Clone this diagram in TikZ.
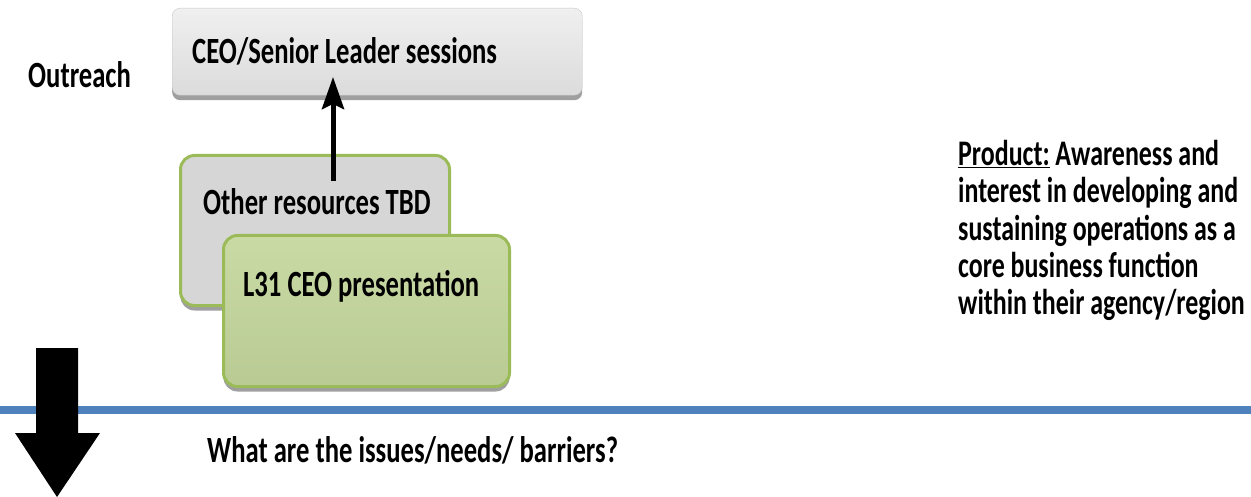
\documentclass[tikz,border=0pt]{standalone}
\usepackage{fontspec}
\setmainfont{Carlito}[FakeStretch=0.72]
\usetikzlibrary{shadows,arrows.meta}
\definecolor{boxgray}{HTML}{D6D6D6}
\definecolor{boxgreen}{HTML}{C3D69B}
\definecolor{edgegreen}{HTML}{9BBB59}
\definecolor{ruleblue}{HTML}{4F81BD}
\tikzset{
  lbl/.style={font=\bfseries\fontsize{37pt}{37.4pt}\selectfont, inner sep=0pt, anchor=base west},
  graybox/.style={rounded corners=8pt, draw=gray!45, top color=gray!12, bottom color=gray!28,
    drop shadow={shadow xshift=0pt, shadow yshift=-5pt, fill=gray!75, opacity=1},
    anchor=north west, inner sep=0pt},
  greenedge/.style={rounded corners=14pt, draw=edgegreen, line width=3pt,
    drop shadow={shadow xshift=0pt, shadow yshift=-5pt, fill=gray!75, opacity=1},
    anchor=north west, inner sep=0pt},
}
\begin{document}
\begin{tikzpicture}[x=1pt,y=-1pt]
\useasboundingbox (0,0) rectangle (1251,497);
\node[graybox, minimum width=410pt, minimum height=87pt] (ceo) at (172,8) {};
\node[lbl] (ceotxt) at (192,64) {CEO/Senior Leader sessions};
\node[lbl] (outreach) at (28,88) {Outreach};
\node[greenedge, fill=boxgray, minimum width=269pt, minimum height=150pt] (other) at (179,154) {};
\node[lbl] (othertxt) at (203,215) {Other resources TBD};
\node[greenedge, top color=boxgreen!90!white, bottom color=boxgreen!95!black, minimum width=286pt, minimum height=151pt] (ltone) at (222,234) {};
\node[lbl] (ltonetxt) at (243,297) {L31 CEO presentation};
\coordinate (upfoot) at (333,181);
\coordinate (uptip) at (333,77);
\draw[line width=5pt, -{Stealth[length=32pt,width=22pt,inset=5pt]}] (upfoot) -- (uptip);
\node[lbl, font=\bfseries\fontsize{36pt}{37.4pt}\selectfont, align=left] (product) at (958,315) {\underline{Product:} Awareness and\\
  interest in developing and\\ sustaining operations as a\\ core business function\\
  within their agency/region};
\draw[ruleblue, line width=8pt] (0,410) -- (1251,410);
\fill (36,348) -- (78,348) -- (78,433) -- (100,433) -- (57,497) -- (15,433) -- (36,433) -- cycle;
\node[lbl] (issues) at (207,462) {What are the issues/needs/ barriers?};
\end{tikzpicture}
\end{document}
